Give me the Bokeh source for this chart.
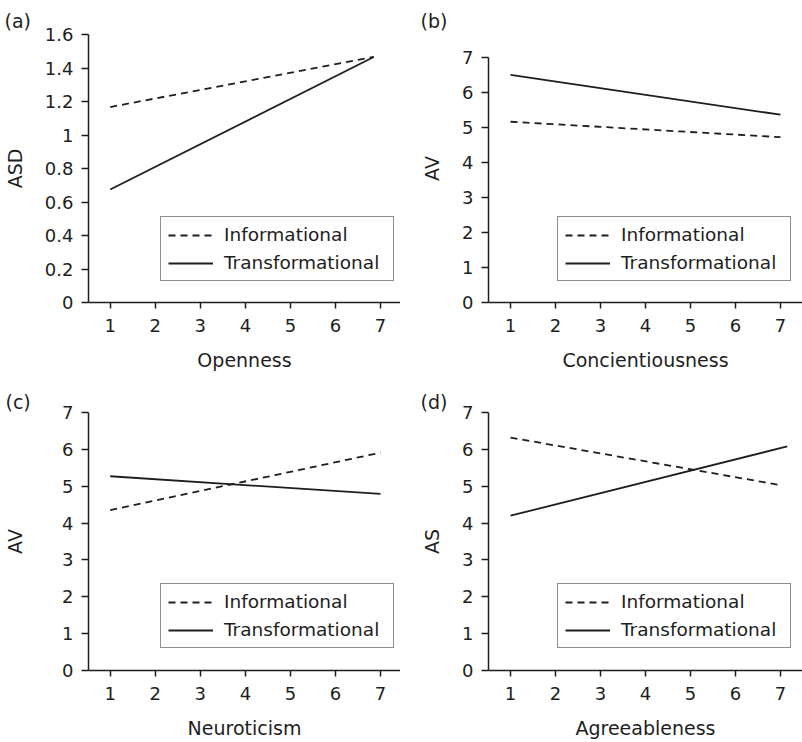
from bokeh.plotting import figure
from bokeh.layouts import column, row
from bokeh.models import Range1d, FixedTicker, Legend, LegendItem, Title
from bokeh.embed import file_html
from bokeh.resources import INLINE

FONT = "DejaVu Sans"
INK = "#1e1e1e"

series_names = ["Informational", "Transformational"]
x_ticks = [1, 2, 3, 4, 5, 6, 7]

# Panel (a)
a_letter = "(a)"
a_xlabel = "Openness"
a_ylabel = "ASD"
a_x_inf = [1, 6.85]
a_y_inf = [1.167, 1.466]
a_x_tr = [1, 6.85]
a_y_tr = [0.675, 1.466]
a_yticks = [0, 0.2, 0.4, 0.6, 0.8, 1, 1.2, 1.4, 1.6]
a_ylabels = ["0", "0.2", "0.4", "0.6", "0.8", "1", "1.2", "1.4", "1.6"]

# Panel (b)
b_letter = "(b)"
b_xlabel = "Concientiousness"
b_ylabel = "AV"
b_x_inf = [1, 7]
b_y_inf = [5.16, 4.72]
b_x_tr = [1, 7]
b_y_tr = [6.50, 5.36]

# Panel (c)
c_letter = "(c)"
c_xlabel = "Neuroticism"
c_ylabel = "AV"
c_x_inf = [1, 7]
c_y_inf = [4.35, 5.91]
c_x_tr = [1, 7]
c_y_tr = [5.27, 4.79]

# Panel (d)
d_letter = "(d)"
d_xlabel = "Agreeableness"
d_ylabel = "AS"
d_x_inf = [1, 7]
d_y_inf = [6.32, 5.03]
d_x_tr = [1, 7.15]
d_y_tr = [4.20, 6.08]

yticks_7 = [0, 1, 2, 3, 4, 5, 6, 7]
ylabels_7 = ["0", "1", "2", "3", "4", "5", "6", "7"]


def make_panel(letter, xlabel, ylabel, x_inf, y_inf, x_tr, y_tr, yticks, ylabels,
               xr, yr, ybounds, width, height, borders, title_standoff, title_offset,
               legend_xy, ylab_standoff, xtick_standoff, xlab_standoff):
    top, right, bottom, left = borders
    p = figure(width=width, height=height, output_backend="svg", toolbar_location=None,
               x_range=Range1d(*xr), y_range=Range1d(*yr),
               min_border_top=top, min_border_right=right,
               min_border_bottom=bottom, min_border_left=left,
               outline_line_color=None, background_fill_color="white",
               border_fill_color="white")
    p.title = Title(text=letter, align="left", offset=title_offset, standoff=title_standoff,
                    text_font=FONT, text_font_size="19px", text_font_style="normal",
                    text_color=INK)
    p.xgrid.visible = False
    p.ygrid.visible = False

    r_inf = p.line(x_inf, y_inf, line_color=INK, line_width=1.8, line_dash="7 5")
    r_tr = p.line(x_tr, y_tr, line_color=INK, line_width=1.8)

    legend = Legend(items=[LegendItem(label=series_names[0], renderers=[r_inf]),
                           LegendItem(label=series_names[1], renderers=[r_tr])],
                    location=legend_xy, margin=0, padding=7, spacing=7,
                    glyph_width=45, glyph_height=20, label_height=20, label_width=162,
                    label_standoff=11,
                    label_text_font=FONT, label_text_font_size="18.5px",
                    label_text_color=INK, border_line_color=INK, border_line_width=1.2,
                    background_fill_color="white", background_fill_alpha=1.0)
    p.add_layout(legend)

    for ax in (p.xaxis[0], p.yaxis[0]):
        ax.axis_line_color = INK
        ax.axis_line_width = 1.5
        ax.major_tick_line_color = INK
        ax.major_tick_line_width = 1.5
        ax.major_tick_in = 0
        ax.minor_tick_in = 0
        ax.minor_tick_out = 0
        ax.major_label_text_font = FONT
        ax.major_label_text_font_size = "18px"
        ax.major_label_text_color = INK
        ax.axis_label_text_font = FONT
        ax.axis_label_text_font_size = "19px"
        ax.axis_label_text_font_style = "normal"
        ax.axis_label_text_color = INK

    xa = p.xaxis[0]
    xa.ticker = FixedTicker(ticks=x_ticks)
    xa.major_tick_out = 6
    xa.major_label_standoff = xtick_standoff
    xa.axis_label = xlabel
    xa.axis_label_standoff = xlab_standoff

    ya = p.yaxis[0]
    ya.ticker = FixedTicker(ticks=yticks)
    ya.major_label_overrides = {t: l for t, l in zip(yticks, ylabels)}
    ya.major_tick_out = 7
    ya.major_label_standoff = 8
    ya.axis_label = ylabel
    ya.axis_label_standoff = ylab_standoff
    if ybounds is not None:
        ya.bounds = ybounds
    return p


H1 = 374
H2 = 368

pa = make_panel(a_letter, a_xlabel, a_ylabel, a_x_inf, a_y_inf, a_x_tr, a_y_tr,
                a_yticks, a_ylabels, (0.518, 7.444), (0, 1.6), None, 400, H1,
                (34, 0, 72, 88), 6, -84, (72, 21), 16, 10, 14)
pb = make_panel(b_letter, b_xlabel, b_ylabel, b_x_inf, b_y_inf, b_x_tr, b_y_tr,
                yticks_7, ylabels_7, (0.51, 7.49), (0, 7.65), (0, 7), 402, H1,
                (34, 0, 72, 88), 6, -68, (69, 21), 16, 10, 14)
pc = make_panel(c_letter, c_xlabel, c_ylabel, c_x_inf, c_y_inf, c_x_tr, c_y_tr,
                yticks_7, ylabels_7, (0.518, 7.444), (0, 7), None, 400, H2,
                (38, 0, 72, 88), 0, -83, (72, 22), 33, 10, 14)
pd_ = make_panel(d_letter, d_xlabel, d_ylabel, d_x_inf, d_y_inf, d_x_tr, d_y_tr,
                 yticks_7, ylabels_7, (0.51, 7.49), (0, 7), None, 402, H2,
                 (38, 0, 72, 88), 0, -68, (69, 22), 16, 10, 14)

layout = column(row(pa, pb), row(pc, pd_))

open("out.html", "w").write(file_html(layout, INLINE))
